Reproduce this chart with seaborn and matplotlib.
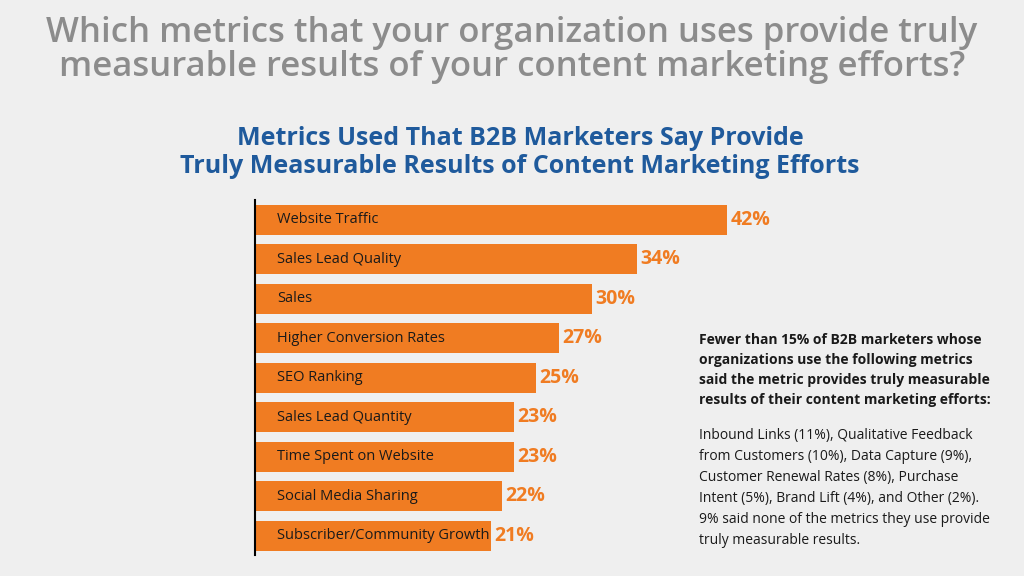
import matplotlib.pyplot as plt
import pandas as pd
import seaborn as sns

# ── data ─────────────────────────────────────────────────────────────────────
METRICS = [
    "Website Traffic", "Sales Lead Quality", "Sales", "Higher Conversion Rates",
    "SEO Ranking", "Sales Lead Quantity", "Time Spent on Website",
    "Social Media Sharing", "Subscriber/Community Growth",
]
PERCENT = [42, 34, 30, 27, 25, 23, 23, 22, 21]

ORANGE = "#f07c22"
BLUE = "#1f5a9c"
BG = "#efefef"

df = pd.DataFrame({"metric": METRICS, "pct": PERCENT})

fig = plt.figure(figsize=(10.24, 5.76), dpi=100, facecolor=BG)
ax = fig.add_axes([0.249, 0.036, 0.727, 0.617])
ax.set_facecolor("none")

sns.barplot(data=df, y="metric", x="pct", orient="h", color=ORANGE,
            width=0.76, saturation=1, ax=ax)
ax.set_xlim(0, 66.2)
ax.set_ylim(8.5, -0.5)
ax.set_xlabel("")
ax.set_ylabel("")
ax.set_xticks([])
ax.set_yticks([])
for s in ["top", "right", "bottom"]:
    ax.spines[s].set_visible(False)
ax.spines["left"].set_color("black")
ax.spines["left"].set_linewidth(1.5)

for i, (m, v) in enumerate(zip(METRICS, PERCENT)):
    ax.text(2.0, i, m, va="center", ha="left", fontsize=10.5,
            color="#1a1a1a", family="Open Sans")
    ax.text(v + 0.3, i, f"{v}%", va="center", ha="left", fontsize=14,
            fontweight="bold", color=ORANGE, family="Open Sans")

fig.text(0.5, 0.913, "Which metrics that your organization uses provide truly\n"
         "measurable results of your content marketing efforts?",
         ha="center", va="center", fontsize=25, color="#8c8c8c",
         fontweight="semibold", family="Open Sans", linespacing=1.0)
fig.text(0.508, 0.735, "Metrics Used That B2B Marketers Say Provide\n"
         "Truly Measurable Results of Content Marketing Efforts",
         ha="center", va="center", fontsize=18, color=BLUE,
         fontweight="bold", family="Open Sans", linespacing=1.15)

bold = ("Fewer than 15% of B2B marketers whose\n"
        "organizations use the following metrics\n"
        "said the metric provides truly measurable\n"
        "results of their content marketing efforts:")
normal = ("Inbound Links (11%), Qualitative Feedback\n"
          "from Customers (10%), Data Capture (9%),\n"
          "Customer Renewal Rates (8%), Purchase\n"
          "Intent (5%), Brand Lift (4%), and Other (2%).\n"
          "9% said none of the metrics they use provide\n"
          "truly measurable results.")
fig.text(0.683, 0.422, bold, ha="left", va="top", fontsize=10,
         fontweight="bold", color="#1a1a1a", family="Open Sans", linespacing=1.55)
fig.text(0.683, 0.257, normal, ha="left", va="top", fontsize=10,
         color="#1a1a1a", family="Open Sans", linespacing=1.55)

fig.savefig("out.png", dpi=100, facecolor=BG)
